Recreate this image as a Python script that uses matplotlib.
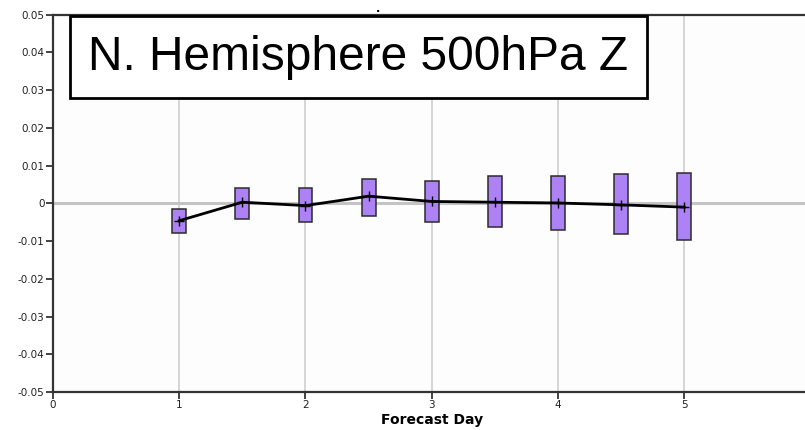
import matplotlib.pyplot as plt
from matplotlib.patches import Rectangle

# forecast day positions and statistics
days = [1.0, 1.5, 2.0, 2.5, 3.0, 3.5, 4.0, 4.5, 5.0]
means = [-0.0046, 0.0003, -0.0006, 0.0019, 0.0005, 0.0003, 0.0001, -0.0004, -0.0010]
box_tops = [-0.0014, 0.0041, 0.0041, 0.0064, 0.0060, 0.0073, 0.0073, 0.0078, 0.0081]
box_bottoms = [-0.0079, -0.0042, -0.0050, -0.0034, -0.0050, -0.0063, -0.0071, -0.0082, -0.0098]

x_ticks = [0, 1, 2, 3, 4, 5, 6]
y_ticks = [-0.05, -0.04, -0.03, -0.02, -0.01, 0, 0.01, 0.02, 0.03, 0.04, 0.05]
y_labels = ["-0.05", "-0.04", "-0.03", "-0.02", "-0.01", "0", "0.01", "0.02", "0.03", "0.04", "0.05"]

BOX_WIDTH = 0.11
BOX_COLOR = "#ad82f4"

fig = plt.figure(figsize=(8.05, 4.30), dpi=100)
ax = fig.add_axes([0.0658, 0.0884, 0.941, 0.8774])
ax.set_facecolor("#fdfdfd")

ax.set_xlim(0, 6)
ax.set_ylim(-0.05, 0.05)

# vertical grid at integer days plus a heavier zero line
for d in x_ticks[1:-1]:
	ax.axvline(d, color="#cfcfcf", linewidth=1.2, zorder=0)
ax.axhline(0, color="#c4c4c4", linewidth=2.2, zorder=0)

for d, top, bot in zip(days, box_tops, box_bottoms):
	ax.add_patch(
		Rectangle(
			(d - BOX_WIDTH / 2, bot),
			BOX_WIDTH,
			top - bot,
			facecolor=BOX_COLOR,
			edgecolor="#2b2b2b",
			linewidth=1.1,
			zorder=2,
		)
	)

ax.plot(days, means, color="black", linewidth=2.0, marker="+", markersize=7,
	markeredgewidth=1.0, zorder=3)

ax.set_xticks(x_ticks)
ax.set_xticklabels([str(t) for t in x_ticks])
ax.set_yticks(y_ticks)
ax.set_yticklabels(y_labels)
ax.tick_params(axis="both", direction="out", length=5, width=1.2, color="#222222",
	labelsize=7.5, labelcolor="#222222", pad=1)
ax.set_xlabel("Forecast Day", fontsize=10, fontweight="bold", labelpad=2)

for side in ["left", "bottom", "top"]:
	ax.spines[side].set_linewidth(1.6)
	ax.spines[side].set_color("#333333")
ax.spines["right"].set_visible(False)

fig.text(
	0.4453,
	0.867,
	"N. Hemisphere 500hPa Z",
	fontsize=34.5,
	family="Liberation Sans",
	va="center",
	ha="center",
	bbox={"boxstyle": "square,pad=0.38", "facecolor": "white", "edgecolor": "black", "linewidth": 2.0},
	zorder=5,
)

fig.text(0.47, 0.99, ".", fontsize=8, fontweight="bold", ha="center", va="top")

fig.savefig("out.png", dpi=100)
plt.close(fig)
